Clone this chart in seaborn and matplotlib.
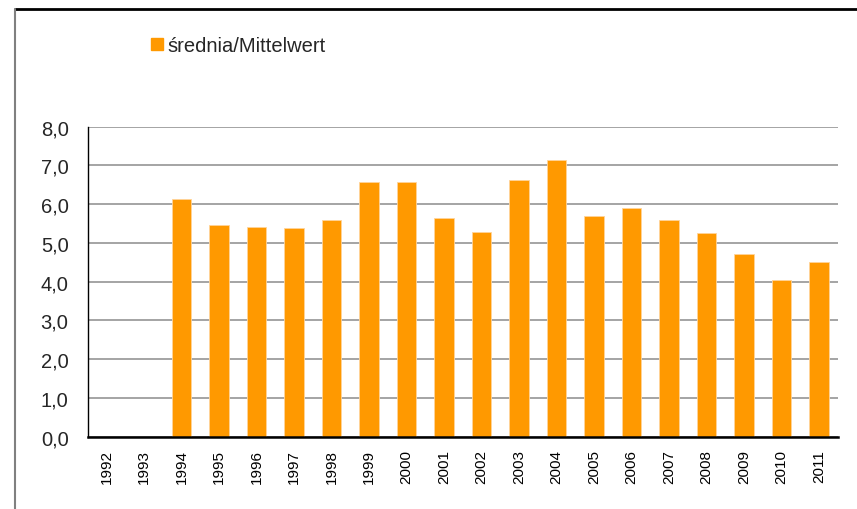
import pandas as pd
import seaborn as sns
import numpy as np
import matplotlib.pyplot as plt
from matplotlib.ticker import FixedLocator, FuncFormatter
from matplotlib.lines import Line2D

# dane
years = [str(y) for y in range(1992, 2012)]
mean_values = [0.0, 0.0, 6.13, 5.47, 5.40, 5.37, 5.60, 6.56, 6.56, 5.65,
               5.28, 6.63, 7.13, 5.69, 5.91, 5.60, 5.25, 4.72, 4.04, 4.50]
series_label = 'średnia/Mittelwert'
y_ticks = [0, 1, 2, 3, 4, 5, 6, 7, 8]

data = pd.DataFrame({'year': years, 'value': mean_values})

sns.set_style('white')
plt.rcParams['font.family'] = ['Liberation Sans', 'DejaVu Sans']

fig = plt.figure(figsize=(8.57, 5.10), dpi=100)
ax = fig.add_axes([0.1027, 0.142, 0.875, 0.608])

sns.barplot(x='year', y='value', data=data, ax=ax, color='#FF9900',
            saturation=1, width=0.52, edgecolor='#FFD49A', linewidth=0.6)

ax.set_xlim(-0.5, len(years) - 0.5)
ax.set_ylim(0, 8)
ax.set_yticks(y_ticks)
ax.yaxis.set_major_formatter(FuncFormatter(lambda v, p: f'{v:.1f}'.replace('.', ',')))
ax.grid(axis='y', color='#8c8c8c', linewidth=1.1)
ax.set_axisbelow(True)

# Excel-style ticks between categories
ax.xaxis.set_minor_locator(FixedLocator(np.arange(-0.5, len(years), 1.0)))
ax.tick_params(axis='x', which='major', length=0, rotation=90, labelsize=11, pad=9, colors='black')
ax.tick_params(axis='x', which='minor', length=5, width=1, direction='out', color='black')
ax.tick_params(axis='y', length=5, width=1, direction='out', labelsize=14.5, pad=9, color='black')
ax.set_xlabel('')
ax.set_ylabel('')

for side in ['top', 'right']:
    ax.spines[side].set_visible(False)
ax.spines['left'].set_color('black')
ax.spines['left'].set_linewidth(1)
ax.spines['bottom'].set_color('black')
ax.spines['bottom'].set_linewidth(1.8)

handle = Line2D([], [], marker='s', linestyle='', color='#FF9900', markersize=8)
fig.legend([handle], [series_label], loc='center', bbox_to_anchor=(0.276, 0.908),
           frameon=False, fontsize=14.5, handletextpad=0.0, handlelength=1.0)

# outer frame: top and left edge only
fig.add_artist(Line2D([0.0175, 1.0], [0.981, 0.981], transform=fig.transFigure, color='black', linewidth=2))
fig.add_artist(Line2D([0.0175, 0.0175], [0.0, 0.981], transform=fig.transFigure, color='#808080', linewidth=1.5))

fig.savefig('out.png', dpi=100)
